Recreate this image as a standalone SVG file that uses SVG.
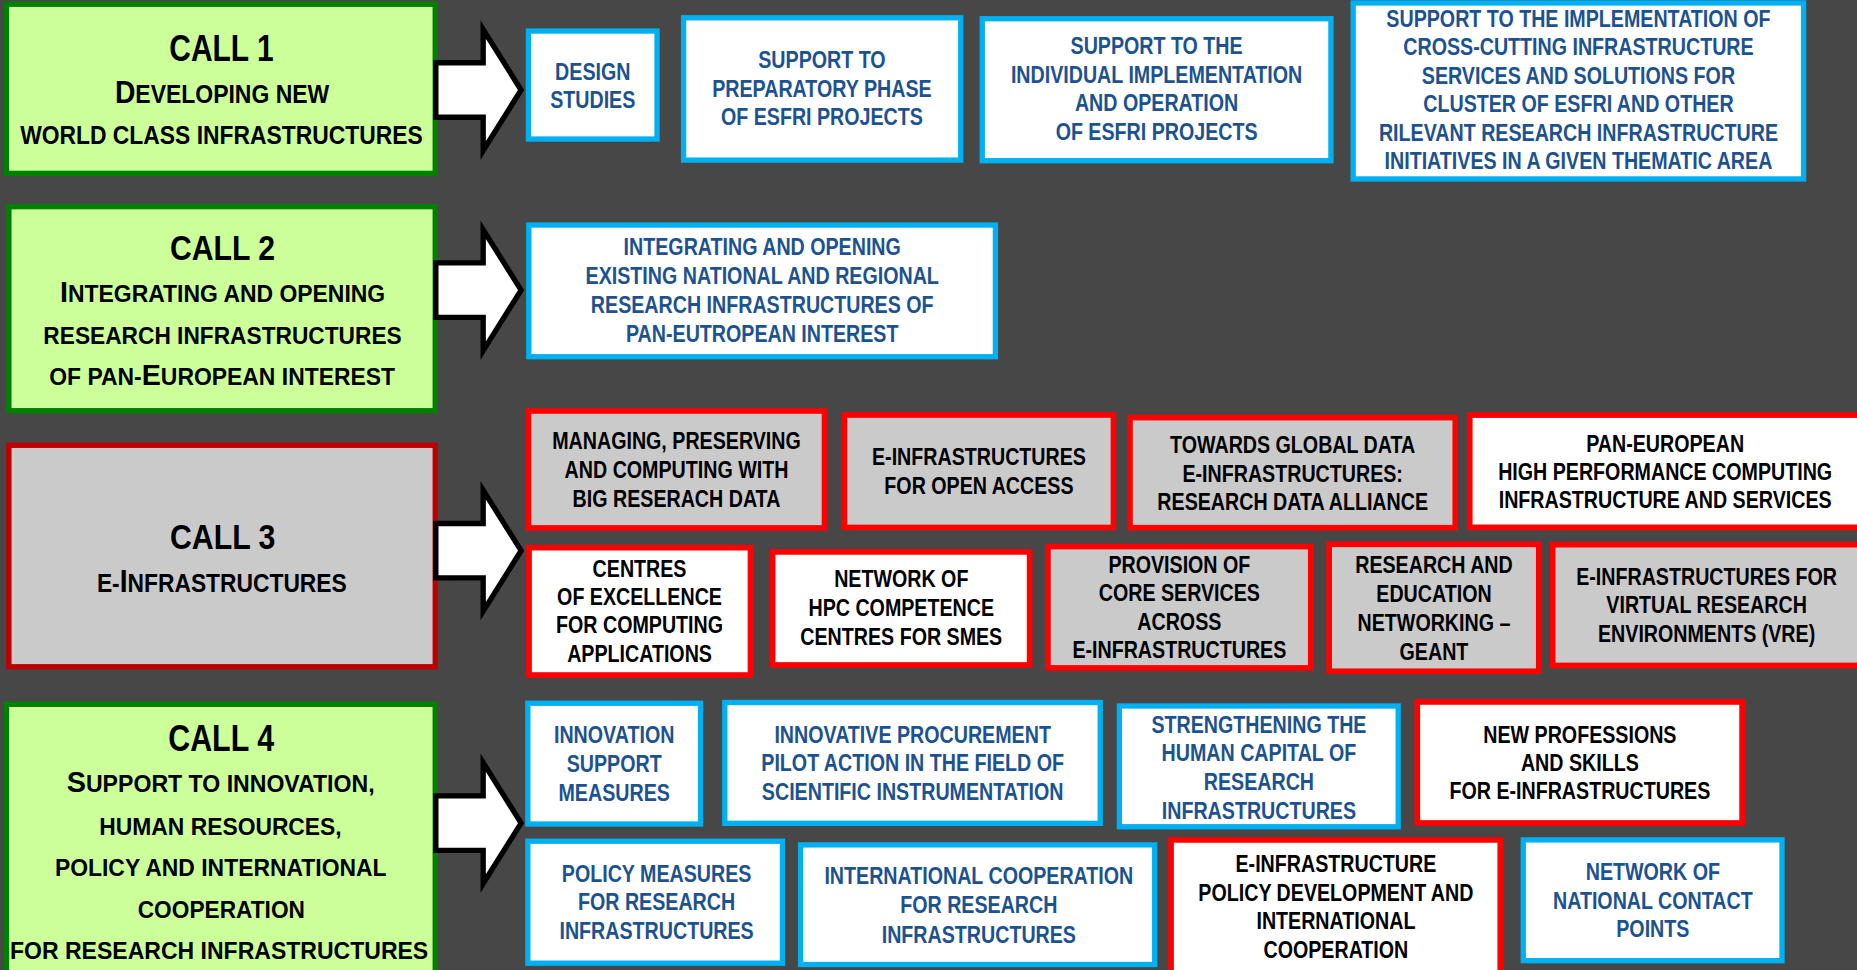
<svg xmlns="http://www.w3.org/2000/svg" width="1857" height="970" viewBox="0 0 1857 970">
<style>
.call{fill:#ccff99;stroke:#008000;stroke-width:4.5}
.call3{fill:#cacaca;stroke:#c00000;stroke-width:4.5}
.bw{fill:#ffffff;stroke:#00b0f0;stroke-width:4.5}
.rw{fill:#ffffff;stroke:#ff0000;stroke-width:4.8}
.rg{fill:#cacaca;stroke:#ff0000;stroke-width:4.8}
.arrow{fill:#ffffff;stroke:#000000;stroke-width:4.5;stroke-linejoin:miter}
text{font-family:"Liberation Sans",Arial,"DejaVu Sans",sans-serif;font-weight:bold}
.ct{fill:#000000}
.st{font-size:20px;text-anchor:middle}
.blue{fill:#1c5291}
.blk{fill:#000000}
</style>
<rect x="0" y="0" width="1857" height="970" fill="#474747"/>
<g transform="scale(1.18431)">

<g id="call1">
<rect class="call" x="5.5" y="3.6" width="362" height="142.8"/>
<text class="ct" x="143" y="51.5" font-size="31" textLength="88" lengthAdjust="spacingAndGlyphs">CALL 1</text>
<text class="ct" x="97" y="87.3" font-size="21.5" textLength="181" lengthAdjust="spacingAndGlyphs"><tspan font-size="26.5">D</tspan>EVELOPING NEW</text>
<text class="ct" x="17" y="122" font-size="22" textLength="340" lengthAdjust="spacingAndGlyphs">WORLD CLASS INFRASTRUCTURES</text>
</g>

<g id="call2">
<rect class="call" x="7.5" y="174.5" width="360" height="172.3"/>
<text class="ct" x="143.5" y="219.5" font-size="30" textLength="88.7" lengthAdjust="spacingAndGlyphs">CALL 2</text>
<text class="ct" x="50.7" y="254.7" font-size="20" textLength="274.5" lengthAdjust="spacingAndGlyphs"><tspan font-size="25">I</tspan>NTEGRATING AND OPENING</text>
<text class="ct" x="36.6" y="290.5" font-size="20" textLength="302.6" lengthAdjust="spacingAndGlyphs">RESEARCH INFRASTRUCTURES</text>
<text class="ct" x="41.6" y="325" font-size="20" textLength="292" lengthAdjust="spacingAndGlyphs">OF PAN-<tspan font-size="25">E</tspan>UROPEAN INTEREST</text>
</g>

<g id="call3">
<rect class="call3" x="7.5" y="376" width="360" height="187"/>
<text class="ct" x="143.5" y="463.6" font-size="30" textLength="89" lengthAdjust="spacingAndGlyphs">CALL 3</text>
<text class="ct" x="81.8" y="499.6" font-size="21" textLength="211" lengthAdjust="spacingAndGlyphs">E-<tspan font-size="26">I</tspan>NFRASTRUCTURES</text>
</g>

<g id="call4">
<rect class="call" x="5.5" y="594.7" width="362" height="240"/>
<text class="ct" x="142" y="634" font-size="31" textLength="89.4" lengthAdjust="spacingAndGlyphs">CALL 4</text>
<text class="ct" x="56.3" y="668.5" font-size="20" textLength="260" lengthAdjust="spacingAndGlyphs"><tspan font-size="25">S</tspan>UPPORT TO INNOVATION,</text>
<text class="ct" x="83.9" y="705" font-size="20" textLength="204.6" lengthAdjust="spacingAndGlyphs">HUMAN RESOURCES,</text>
<text class="ct" x="46.4" y="739.7" font-size="20" textLength="280" lengthAdjust="spacingAndGlyphs">POLICY AND INTERNATIONAL</text>
<text class="ct" x="116.3" y="775.4" font-size="20" textLength="141.2" lengthAdjust="spacingAndGlyphs">COOPERATION</text>
<text class="ct" x="8.4" y="810" font-size="20" textLength="353.2" lengthAdjust="spacingAndGlyphs">FOR RESEARCH INFRASTRUCTURES</text>
</g>

<g id="connectors">
<polygon class="arrow" points="368,53 408,53 408,25 440,76 408,127 408,99 368,99"/>
<polygon class="arrow" points="368,222 408,222 408,194 440,245 408,296 408,268 368,268"/>
<polygon class="arrow" points="368,442 408,442 408,414 440,465 408,516 408,488 368,488"/>
<polygon class="arrow" points="368,672 408,672 408,644 440,695 408,746 408,718 368,718"/>
</g>

<g id="design-studies">
<rect class="bw" x="446.2" y="26.2" width="108.6" height="91.2"/>
<g transform="translate(500.5 0) scale(0.83 1)" class="st blue">
<text x="0" y="67.5">DESIGN</text>
<text x="0" y="91.5">STUDIES</text>
</g>
</g>

<g id="preparatory-phase">
<rect class="bw" x="577.2" y="15" width="234" height="120.2"/>
<g transform="translate(694 0) scale(0.83 1)" class="st blue">
<text x="0" y="57.7">SUPPORT TO</text>
<text x="0" y="81.6">PREPARATORY PHASE</text>
<text x="0" y="105.5">OF ESFRI PROJECTS</text>
</g>
</g>

<g id="individual-implementation">
<rect class="bw" x="829.4" y="15.8" width="294.4" height="119.9"/>
<g transform="translate(976.6 0) scale(0.83 1)" class="st blue">
<text x="0" y="45.5">SUPPORT TO THE</text>
<text x="0" y="69.8">INDIVIDUAL IMPLEMENTATION</text>
<text x="0" y="94.1">AND OPERATION</text>
<text x="0" y="118.4">OF ESFRI PROJECTS</text>
</g>
</g>

<g id="cross-cutting">
<rect class="bw" x="1142.6" y="2.5" width="380.3" height="148.6"/>
<g transform="translate(1332.8 0) scale(0.83 1)" class="st blue">
<text x="0" y="22.5">SUPPORT TO THE IMPLEMENTATION OF</text>
<text x="0" y="46.6">CROSS-CUTTING INFRASTRUCTURE</text>
<text x="0" y="70.7">SERVICES AND SOLUTIONS FOR</text>
<text x="0" y="94.8">CLUSTER OF ESFRI AND OTHER</text>
<text x="0" y="118.9">RILEVANT RESEARCH INFRASTRUCTURE</text>
<text x="0" y="143">INITIATIVES IN A GIVEN THEMATIC AREA</text>
</g>
</g>

<g id="integrating-opening">
<rect class="bw" x="446.5" y="190" width="394" height="111.2"/>
<g transform="translate(643.6 0) scale(0.83 1)" class="st blue">
<text x="0" y="215.3">INTEGRATING AND OPENING</text>
<text x="0" y="239.7">EXISTING NATIONAL AND REGIONAL</text>
<text x="0" y="264.1">RESEARCH INFRASTRUCTURES OF</text>
<text x="0" y="288.5">PAN-EUTROPEAN INTEREST</text>
</g>
</g>

<g id="big-data">
<rect class="rg" x="446.2" y="347" width="250" height="98.8"/>
<g transform="translate(571.2 0) scale(0.83 1)" class="st blk">
<text x="0" y="379.4">MANAGING, PRESERVING</text>
<text x="0" y="403.6">AND COMPUTING WITH</text>
<text x="0" y="427.8">BIG RESERACH DATA</text>
</g>
</g>

<g id="open-access">
<rect class="rg" x="713" y="350.4" width="227.2" height="95"/>
<g transform="translate(826.6 0) scale(0.83 1)" class="st blk">
<text x="0" y="392.6">E-INFRASTRUCTURES</text>
<text x="0" y="417">FOR OPEN ACCESS</text>
</g>
</g>

<g id="global-data">
<rect class="rg" x="954.1" y="352.6" width="274.7" height="93"/>
<g transform="translate(1091.5 0) scale(0.83 1)" class="st blk">
<text x="0" y="382.8">TOWARDS GLOBAL DATA</text>
<text x="0" y="406.7">E-INFRASTRUCTURES:</text>
<text x="0" y="430.6">RESEARCH DATA ALLIANCE</text>
</g>
</g>

<g id="hpc">
<rect class="rw" x="1241" y="350.5" width="400" height="94.8"/>
<g transform="translate(1406 0) scale(0.83 1)" class="st blk">
<text x="0" y="381.4">PAN-EUROPEAN</text>
<text x="0" y="405.3">HIGH PERFORMANCE COMPUTING</text>
<text x="0" y="429.2">INFRASTRUCTURE AND SERVICES</text>
</g>
</g>

<g id="centres-excellence">
<rect class="rw" x="446.7" y="462.4" width="187" height="107.6"/>
<g transform="translate(540 0) scale(0.83 1)" class="st blk">
<text x="0" y="486.9">CENTRES</text>
<text x="0" y="510.8">OF EXCELLENCE</text>
<text x="0" y="534.8">FOR COMPUTING</text>
<text x="0" y="558.7">APPLICATIONS</text>
</g>
</g>

<g id="hpc-competence">
<rect class="rw" x="652.4" y="466" width="217" height="95.5"/>
<g transform="translate(761 0) scale(0.83 1)" class="st blk">
<text x="0" y="496">NETWORK OF</text>
<text x="0" y="520.5">HPC COMPETENCE</text>
<text x="0" y="545">CENTRES FOR SMES</text>
</g>
</g>

<g id="core-services">
<rect class="rg" x="884.8" y="461.5" width="222" height="102.5"/>
<g transform="translate(995.8 0) scale(0.83 1)" class="st blk">
<text x="0" y="483.5">PROVISION OF</text>
<text x="0" y="507.7">CORE SERVICES</text>
<text x="0" y="531.9">ACROSS</text>
<text x="0" y="556">E-INFRASTRUCTURES</text>
</g>
</g>

<g id="geant">
<rect class="rg" x="1122.3" y="459.6" width="177" height="107.2"/>
<g transform="translate(1210.8 0) scale(0.83 1)" class="st blk">
<text x="0" y="484.1">RESEARCH AND</text>
<text x="0" y="508.4">EDUCATION</text>
<text x="0" y="532.7">NETWORKING –</text>
<text x="0" y="557">GEANT</text>
</g>
</g>

<g id="vre">
<rect class="rg" x="1311" y="459.9" width="400" height="102"/>
<g transform="translate(1441 0) scale(0.83 1)" class="st blk">
<text x="0" y="494">E-INFRASTRUCTURES FOR</text>
<text x="0" y="517.9">VIRTUAL RESEARCH</text>
<text x="0" y="541.8">ENVIRONMENTS (VRE)</text>
</g>
</g>

<g id="innovation-support">
<rect class="bw" x="445.7" y="593.8" width="145.8" height="102"/>
<g transform="translate(518.6 0) scale(0.83 1)" class="st blue">
<text x="0" y="627.7">INNOVATION</text>
<text x="0" y="652.2">SUPPORT</text>
<text x="0" y="676.7">MEASURES</text>
</g>
</g>

<g id="innovative-procurement">
<rect class="bw" x="612" y="593.2" width="317" height="102"/>
<g transform="translate(770.6 0) scale(0.83 1)" class="st blue">
<text x="0" y="627.1">INNOVATIVE PROCUREMENT</text>
<text x="0" y="651.4">PILOT ACTION IN THE FIELD OF</text>
<text x="0" y="675.7">SCIENTIFIC INSTRUMENTATION</text>
</g>
</g>

<g id="human-capital">
<rect class="bw" x="945.2" y="596.1" width="235.4" height="102"/>
<g transform="translate(1063 0) scale(0.83 1)" class="st blue">
<text x="0" y="618.6">STRENGTHENING THE</text>
<text x="0" y="642.8">HUMAN CAPITAL OF</text>
<text x="0" y="667">RESEARCH</text>
<text x="0" y="691.2">INFRASTRUCTURES</text>
</g>
</g>

<g id="new-professions">
<rect class="rw" x="1196.7" y="592.7" width="274.3" height="102.2"/>
<g transform="translate(1334 0) scale(0.83 1)" class="st blk">
<text x="0" y="627.1">NEW PROFESSIONS</text>
<text x="0" y="651">AND SKILLS</text>
<text x="0" y="674.9">FOR E-INFRASTRUCTURES</text>
</g>
</g>

<g id="policy-measures">
<rect class="bw" x="445.7" y="710.3" width="215" height="103"/>
<g transform="translate(554.4 0) scale(0.83 1)" class="st blue">
<text x="0" y="744.5">POLICY MEASURES</text>
<text x="0" y="768.8">FOR RESEARCH</text>
<text x="0" y="793.1">INFRASTRUCTURES</text>
</g>
</g>

<g id="international-cooperation">
<rect class="bw" x="676" y="713.4" width="299" height="101"/>
<g transform="translate(826.5 0) scale(0.83 1)" class="st blue">
<text x="0" y="746.4">INTERNATIONAL COOPERATION</text>
<text x="0" y="771.2">FOR RESEARCH</text>
<text x="0" y="796">INFRASTRUCTURES</text>
</g>
</g>

<g id="einfra-policy">
<rect class="rw" x="988.8" y="709.2" width="278" height="130"/>
<g transform="translate(1128 0) scale(0.83 1)" class="st blk">
<text x="0" y="736">E-INFRASTRUCTURE</text>
<text x="0" y="760.4">POLICY DEVELOPMENT AND</text>
<text x="0" y="784.8">INTERNATIONAL</text>
<text x="0" y="809.2">COOPERATION</text>
</g>
</g>

<g id="contact-points">
<rect class="bw" x="1286.2" y="709.2" width="218.5" height="102"/>
<g transform="translate(1395.6 0) scale(0.83 1)" class="st blue">
<text x="0" y="743">NETWORK OF</text>
<text x="0" y="767.2">NATIONAL CONTACT</text>
<text x="0" y="791.4">POINTS</text>
</g>
</g>

</g>
</svg>
